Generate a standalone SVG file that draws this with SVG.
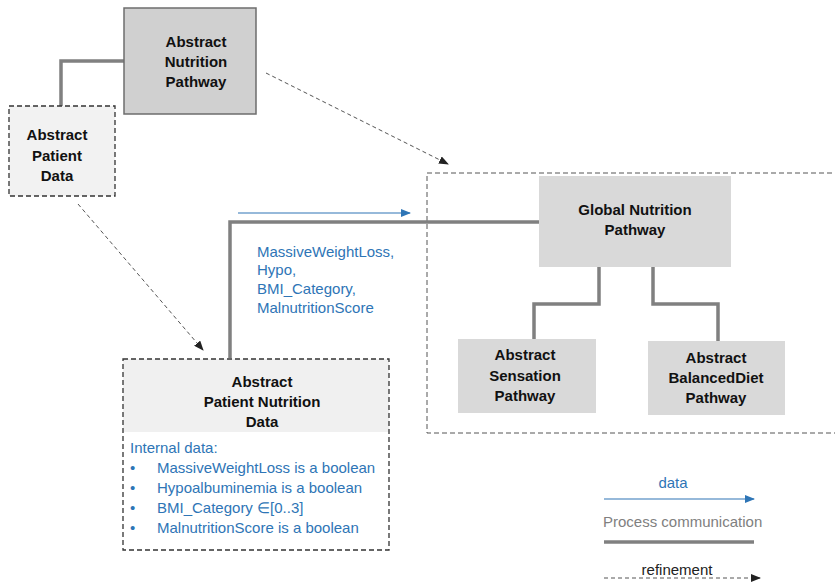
<svg xmlns="http://www.w3.org/2000/svg" width="835" height="585" viewBox="0 0 835 585">
<defs>
<marker id="ah-black" markerWidth="10" markerHeight="8" refX="9" refY="4" orient="auto" markerUnits="userSpaceOnUse"><path d="M0,0 L10,4 L0,8 Z" fill="#222"/></marker>
<marker id="ah-blue" markerWidth="10" markerHeight="8" refX="9" refY="4" orient="auto" markerUnits="userSpaceOnUse"><path d="M0,0 L10,4 L0,8 Z" fill="#2e75b6"/></marker>
</defs>
<style>
.t{font-family:"Liberation Sans",Arial,sans-serif;font-size:15px;font-weight:bold;fill:#111;text-anchor:middle}
.b{font-family:"Liberation Sans",Arial,sans-serif;font-size:15px;fill:#2e75b6}
.proc{fill:none;stroke:#808080;stroke-width:3.5}
.ref{fill:none;stroke:#555;stroke-width:1;stroke-dasharray:4 3}
.data{fill:none;stroke:#2e75b6;stroke-width:1.2}
.dbox{stroke:#333;stroke-width:1.3;stroke-dasharray:5 3}
</style>
<rect x="0" y="0" width="835" height="585" fill="#fff"/>
<g id="container"><rect x="427" y="173" width="420" height="260" fill="none" stroke="#555" stroke-width="1" stroke-dasharray="5 3"/></g>
<g id="connectors">
<polyline class="proc" points="61,106 61,61 124,61"/>
<polyline class="proc" points="230,358 230,222 540,222"/>
<polyline class="proc" points="599,267 599,304 534,304 534,339"/>
<polyline class="proc" points="653,267 653,304 718,304 718,341"/>
<line class="ref" x1="266" y1="73" x2="448" y2="164" marker-end="url(#ah-black)"/>
<line class="ref" x1="78" y1="204" x2="203" y2="350" marker-end="url(#ah-black)"/>
<line class="data" x1="238" y1="213" x2="410" y2="213" marker-end="url(#ah-blue)"/>
</g>
<g id="abstract-nutrition-pathway">
<rect x="124" y="8" width="132" height="106" fill="#d0d0d0" stroke="#6d6d6d" stroke-width="1.5"/>
<text class="t" x="196" y="47">Abstract</text>
<text class="t" x="196" y="67">Nutrition</text>
<text class="t" x="196" y="87">Pathway</text>
</g>
<g id="abstract-patient-data">
<rect class="dbox" x="9" y="106" width="106" height="90" fill="#f2f2f2"/>
<text class="t" x="57" y="140">Abstract</text>
<text class="t" x="57" y="161">Patient</text>
<text class="t" x="57" y="181">Data</text>
</g>
<g id="data-label">
<text class="b" x="257" y="257">MassiveWeightLoss,</text>
<text class="b" x="257" y="275">Hypo,</text>
<text class="b" x="257" y="294">BMI_Category,</text>
<text class="b" x="257" y="313">MalnutritionScore</text>
</g>
<g id="abstract-patient-nutrition-data">
<rect x="123" y="359" width="266" height="73" fill="#f0f0f0"/>
<rect class="dbox" x="123" y="359" width="266" height="191" fill="none"/>
<text class="t" x="262" y="387">Abstract</text>
<text class="t" x="262" y="407">Patient Nutrition</text>
<text class="t" x="262" y="427">Data</text>
<text class="b" x="130" y="453">Internal data:</text>
<text class="b" x="130" y="473">•</text><text class="b" x="157" y="473">MassiveWeightLoss is a boolean</text>
<text class="b" x="130" y="493">•</text><text class="b" x="157" y="493">Hypoalbuminemia is a boolean</text>
<text class="b" x="130" y="513">•</text><text class="b" x="157" y="513">BMI_Category ∈[0..3]</text>
<text class="b" x="130" y="533">•</text><text class="b" x="157" y="533">MalnutritionScore is a boolean</text>
</g>
<g id="global-nutrition-pathway">
<rect x="539" y="176" width="192" height="91" fill="#d9d9d9"/>
<text class="t" x="635" y="215">Global Nutrition</text>
<text class="t" x="635" y="235">Pathway</text>
</g>
<g id="abstract-sensation-pathway">
<rect x="458" y="339" width="138" height="74" fill="#d9d9d9"/>
<text class="t" x="525" y="360">Abstract</text>
<text class="t" x="525" y="381">Sensation</text>
<text class="t" x="525" y="401">Pathway</text>
</g>
<g id="abstract-balanceddiet-pathway">
<rect x="648" y="341" width="137" height="74" fill="#d9d9d9"/>
<text class="t" x="716" y="363">Abstract</text>
<text class="t" x="716" y="383">BalancedDiet</text>
<text class="t" x="716" y="403">Pathway</text>
</g>
<g id="legend">
<text class="b" x="673" y="488" text-anchor="middle">data</text>
<line class="data" x1="604" y1="499" x2="754" y2="499" marker-end="url(#ah-blue)"/>
<text x="603" y="527" font-family="Liberation Sans, Arial, sans-serif" font-size="15" fill="#808080">Process communication</text>
<line x1="604" y1="542" x2="754" y2="542" stroke="#808080" stroke-width="3.5"/>
<text x="677" y="575" font-family="Liberation Sans, Arial, sans-serif" font-size="15" fill="#222" text-anchor="middle">refinement</text>
<line class="ref" x1="604" y1="578" x2="760" y2="578" marker-end="url(#ah-black)"/>
</g>
</svg>
